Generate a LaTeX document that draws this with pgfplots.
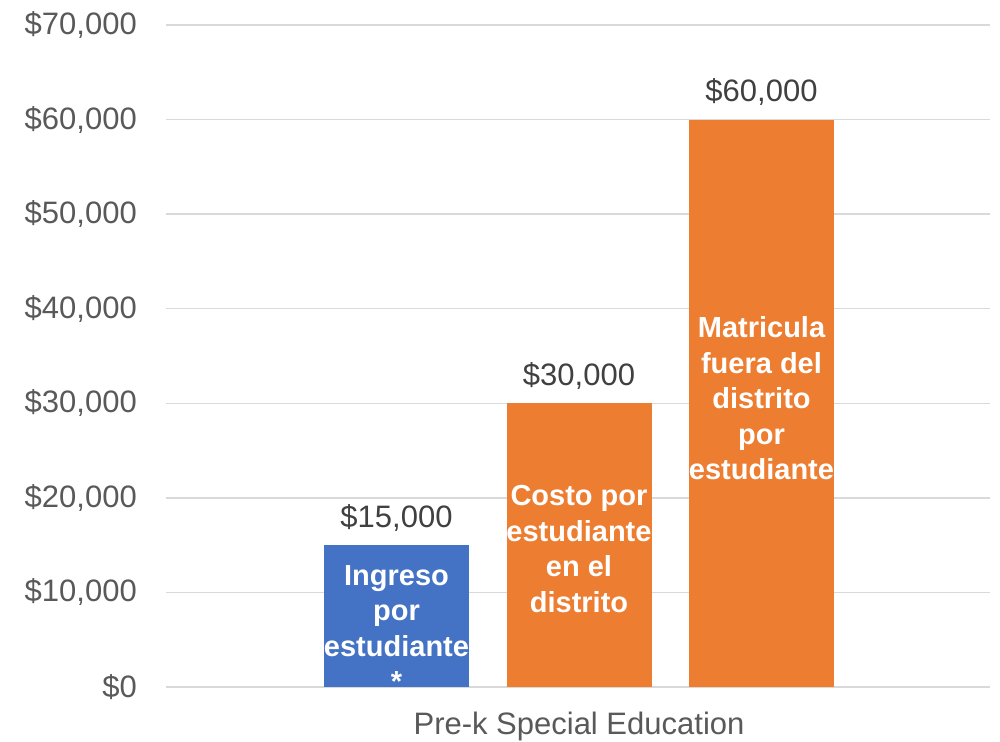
\documentclass[border=0pt]{standalone}
\usepackage{pgfplots}
\pgfplotsset{compat=1.18}
\usepackage{fontspec}
\setmainfont{Liberation Sans}
\definecolor{barblue}{HTML}{4472C4}
\definecolor{barorange}{HTML}{ED7D31}
\definecolor{gridgray}{HTML}{D9D9D9}
\definecolor{ticktext}{HTML}{595959}
\definecolor{valtext}{HTML}{404040}
\begin{document}
\begin{tikzpicture}
\begin{axis}[
  scale only axis,
  width=824pt, height=662pt,
  xmin=-0.263, xmax=4.252,
  ymin=0, ymax=70000,
  ytick={0,10000,...,70000},
  scaled y ticks=false,
  xtick={2}, xticklabels={Pre-k Special Education},
  axis line style={draw=none},
  major tick length=0pt,
  ymajorgrids,
  grid style={color=gridgray, line width=1.5pt},
  /pgf/number format/assume math mode=true,
  /pgf/number format/.cd, 1000 sep={,}, fixed, /pgfplots/.cd,
  yticklabel={\$\pgfmathprintnumber{\tick}},
  yticklabel style={font=\fontsize{31}{37}\selectfont, text=ticktext, inner sep=0pt, xshift=-29pt, anchor=east},
  xticklabel style={font=\fontsize{31}{37}\selectfont, text=ticktext, inner sep=0pt, anchor=base, yshift=-48pt},
  ybar, bar width=145pt, bar shift=0pt,
  point meta=explicit symbolic,
  nodes near coords,
  nodes near coords style={font=\fontsize{31}{37}\selectfont, text=valtext, anchor=base, inner sep=0pt, yshift=18pt},
  clip=false,
]
\addplot[fill=barblue, draw=none] coordinates {(1,15000) [\$15,000]};
\addplot[fill=barorange, draw=none] coordinates {(2,30000) [\$30,000]};
\addplot[fill=barorange, draw=none] coordinates {(3,60000) [\$60,000]};
\tikzset{inlab/.style={font=\fontsize{29}{35.5}\selectfont\bfseries, text=white, align=center, anchor=center, inner sep=0pt}}
\node[inlab] at (axis cs:1,6200) {Ingreso\\por\\estudiante\\*};
\node[inlab] at (axis cs:2,14600) {Costo por\\estudiante\\en el\\distrito};
\node[inlab] at (axis cs:3,30500) {Matricula\\fuera del\\distrito\\por\\estudiante};
\coordinate (sw) at (rel axis cs:0,0);
\coordinate (ne) at (rel axis cs:1,1);
\end{axis}
\pgfresetboundingbox
\path[use as bounding box] (sw) ++(-166pt,-55pt) coordinate (a) (ne) ++(10pt,25pt) coordinate (b) (a) rectangle (b);
\end{tikzpicture}
\end{document}
